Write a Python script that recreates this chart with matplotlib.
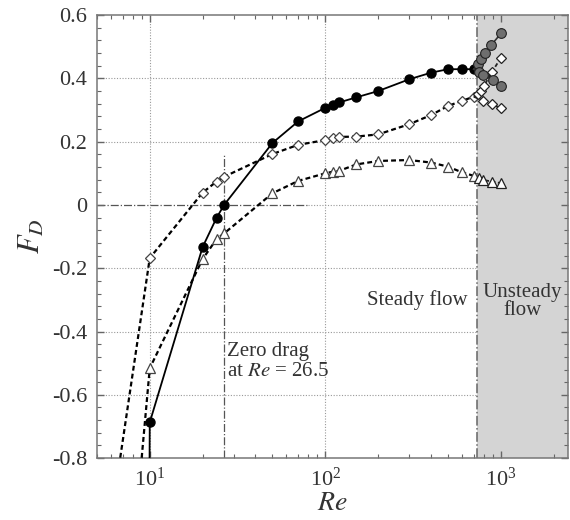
import matplotlib
matplotlib.use("Agg")
import matplotlib.pyplot as plt
from matplotlib.ticker import MultipleLocator, LogLocator, NullFormatter

plt.rcParams["font.family"] = ["Liberation Serif", "DejaVu Serif"]
plt.rcParams["mathtext.fontset"] = "stix"

# steady branch (first point of each series lies below the axis)
re_circ = [9.8, 10, 20, 24, 26.5, 50, 70, 100, 110, 120, 150, 200, 300, 400, 500, 600, 700]
fd_circ = [-1.6, -0.687, -0.133, -0.041, 0.0, 0.196, 0.264, 0.307, 0.316, 0.324, 0.340,
           0.360, 0.397, 0.418, 0.429, 0.429, 0.429]

re_diam = [6, 10, 20, 24, 26.5, 50, 70, 100, 110, 120, 150, 200, 300, 400, 500, 600, 700]
fd_diam = [-1.0, -0.168, 0.039, 0.074, 0.089, 0.161, 0.190, 0.205, 0.210, 0.215, 0.216,
           0.223, 0.255, 0.284, 0.313, 0.329, 0.342]

re_tri = [8.5, 10, 20, 24, 26.5, 50, 70, 100, 110, 120, 150, 200, 300, 400, 500, 600, 700]
fd_tri = [-0.95, -0.516, -0.171, -0.108, -0.090, 0.037, 0.076, 0.100, 0.105, 0.108, 0.128,
          0.139, 0.142, 0.134, 0.121, 0.103, 0.092]

# unsteady branches
re_circ_up = [700, 740, 770, 810, 880, 1000]
fd_circ_up = [0.429, 0.445, 0.460, 0.480, 0.505, 0.542]
re_circ_lo = [700, 750, 790, 900, 1000]
fd_circ_lo = [0.429, 0.420, 0.410, 0.395, 0.376]

re_diam_up = [700, 740, 770, 800, 890, 1000]
fd_diam_up = [0.342, 0.350, 0.360, 0.376, 0.421, 0.465]
re_diam_lo = [700, 790, 890, 1000]
fd_diam_lo = [0.342, 0.330, 0.319, 0.305]

re_tri_un = [700, 750, 790, 890, 1000]
fd_tri_un = [0.092, 0.085, 0.079, 0.074, 0.069]

RE_ZERO = 26.5
RE_UNSTEADY = 730
X_LIM = (5, 2400)
Y_LIM = (-0.8, 0.6)
Y_GRID = [-0.6, -0.4, -0.2, 0.2, 0.4]
X_GRID = [10, 100]

DASH = (0, (2.2, 1.4))
EDGE = "#444444"

fig = plt.figure(figsize=(5.7, 5.2), dpi=100)
ax = fig.add_axes([0.170, 0.119, 0.826, 0.852])
ax.set_xscale("log")
ax.set_xlim(*X_LIM)
ax.set_ylim(*Y_LIM)

# grid (stops at the unsteady region)
grid_kw = dict(color="#999999", lw=0.8, ls=(0, (1, 1.5)), zorder=0.3)
ax.hlines(Y_GRID, X_LIM[0], RE_UNSTEADY, **grid_kw)
ax.hlines([0], 80, RE_UNSTEADY, **grid_kw)
ax.vlines(X_GRID, Y_LIM[0], Y_LIM[1], **grid_kw)
ax.hlines([0], X_LIM[0], 80, color="#555555", lw=0.9, ls="-.", zorder=0.4)
ax.vlines([RE_ZERO], Y_LIM[0], 0.16, color="#555555", lw=0.9, ls="-.", zorder=0.4)

ax.axvspan(RE_UNSTEADY, X_LIM[1], color="#d4d4d4", lw=0, zorder=1)
ax.axvline(RE_UNSTEADY, color="#666666", lw=1.1, ls="-.", zorder=1.2)

# steady series
ax.plot(re_circ, fd_circ, "-", color="black", lw=1.3, marker="o", ms=6.5,
        mfc="black", mec="black", zorder=4)
ax.plot(re_diam, fd_diam, ls=DASH, color="black", lw=1.6, marker="D", ms=5.5,
        mfc="white", mec=EDGE, mew=0.9, zorder=3)
ax.plot(re_tri, fd_tri, ls=DASH, color="black", lw=1.6, marker="^", ms=6.5,
        mfc="white", mec=EDGE, mew=0.9, zorder=3)

# unsteady series
for rx, fy in [(re_circ_up, fd_circ_up), (re_circ_lo, fd_circ_lo)]:
    ax.plot(rx[1:], fy[1:], "-", color="#333333", lw=1.2, marker="o", ms=7,
            mfc="#6e6e6e", mec="#222222", mew=0.8, zorder=5)
    ax.plot(rx[:2], fy[:2], "-", color="#333333", lw=1.2, zorder=4.5)
for rx, fy in [(re_diam_up, fd_diam_up), (re_diam_lo, fd_diam_lo)]:
    ax.plot(rx[1:], fy[1:], ls=DASH, color="#222222", lw=1.3, marker="D", ms=5.5,
            mfc="white", mec="#222222", mew=0.9, zorder=3.5)
    ax.plot(rx[:2], fy[:2], ls=DASH, color="#222222", lw=1.3, zorder=3.4)
ax.plot(re_tri_un[1:], fd_tri_un[1:], ls=DASH, color="#222222", lw=1.3, marker="^", ms=6.5,
        mfc="white", mec="#222222", mew=0.9, zorder=3.5)

# annotations
ax.text(27.6, -0.495, "Zero drag\nat $Re$ = 26.5", ha="left", va="center",
        fontsize=15, color="#333333", linespacing=1.05)
ax.text(645, -0.30, "Steady flow", ha="right", va="center", fontsize=15, color="#333333")
ax.text(1320, -0.305, "Unsteady\nflow", ha="center", va="center", fontsize=15,
        color="#333333", linespacing=0.95)

# axes and ticks
ax.set_yticks([-0.8, -0.6, -0.4, -0.2, 0, 0.2, 0.4, 0.6])
ax.set_yticklabels(["-0.8", "-0.6", "-0.4", "-0.2", "0", "0.2", "0.4", "0.6"])
ax.yaxis.set_minor_locator(MultipleLocator(0.04))
ax.xaxis.set_major_locator(LogLocator(base=10, numticks=10))
ax.xaxis.set_minor_locator(LogLocator(base=10, subs=range(2, 10), numticks=20))
ax.xaxis.set_minor_formatter(NullFormatter())
ax.tick_params(which="both", direction="in", top=True, right=True, color="#666666",
               labelsize=16, labelcolor="#333333")
ax.tick_params(which="major", length=5, width=1.0, pad=7)
ax.tick_params(which="minor", length=3, width=0.8)
for sp in ax.spines.values():
    sp.set_color("#777777")
    sp.set_linewidth(1.1)

ax.set_xlabel("$Re$", fontsize=20, color="#333333", labelpad=0)
ax.set_ylabel("$F_D$", fontsize=22, color="#333333", labelpad=4)

fig.savefig("out.png", dpi=100)
